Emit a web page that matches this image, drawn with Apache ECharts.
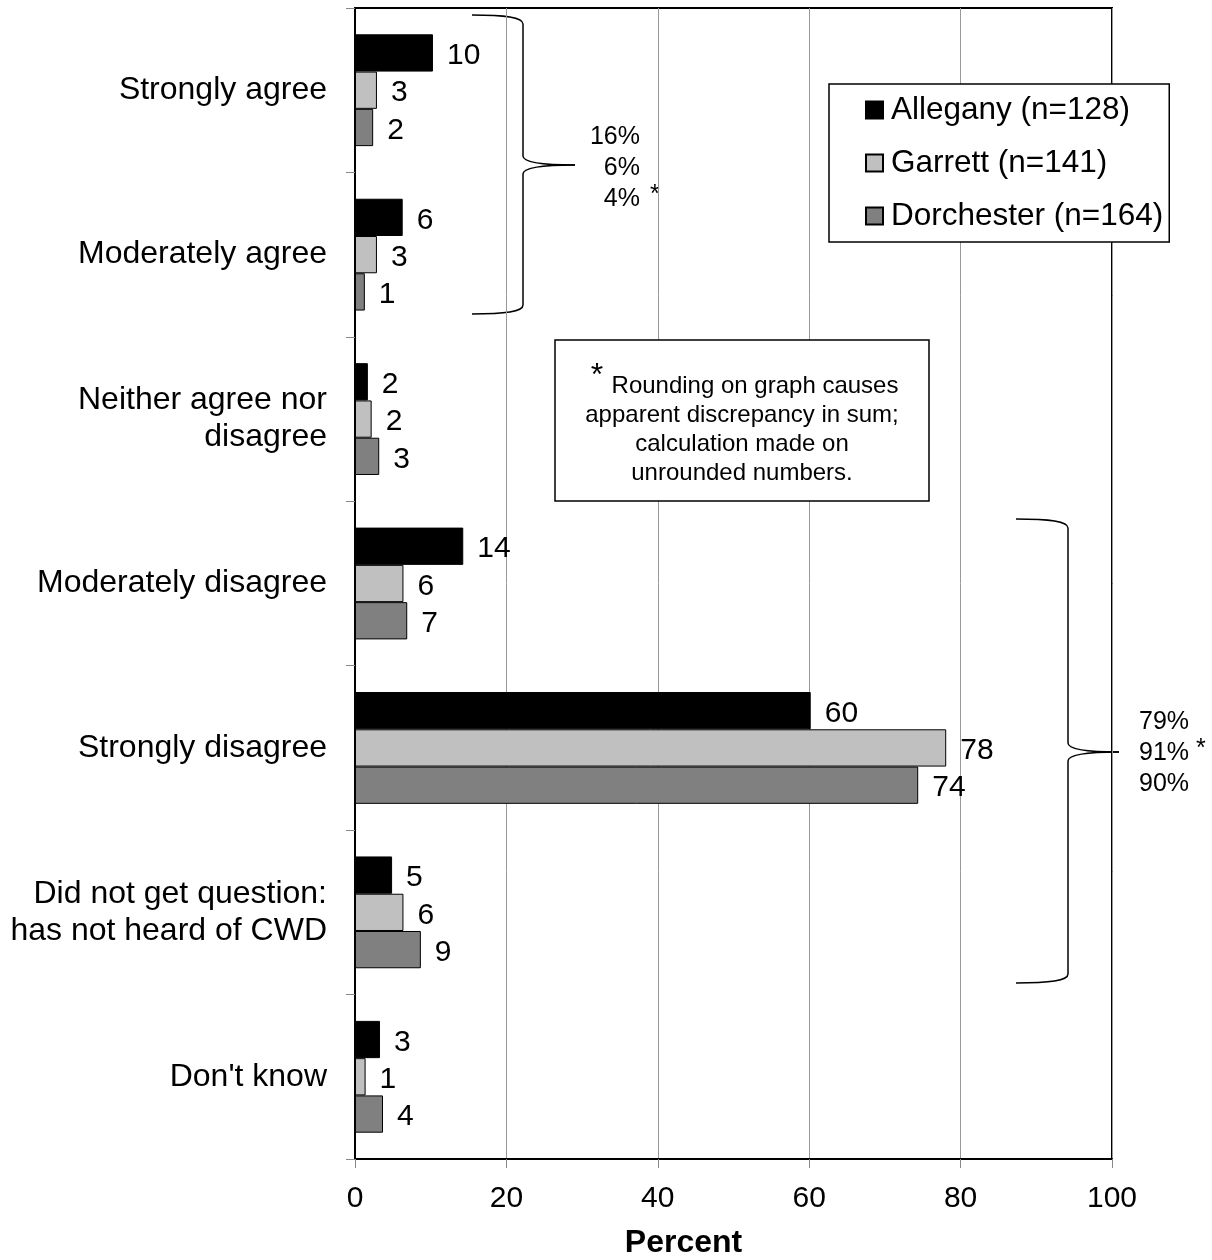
<!DOCTYPE html>
<html lang="en">

<head>
  <meta charset="utf-8">
  <script src="https://cdn.jsdelivr.net/npm/echarts@6.0.0/dist/echarts.min.js"></script>
  <style>
    html, body { margin: 0; padding: 0; background: #fff; }
  </style>
</head>

<body>
  <div id="cwdChart" style="width: 1212px;height:1260px;"></div>

  <script type="text/javascript">

    var categories = ['Strongly agree', 'Moderately agree', 'Neither agree nor\ndisagree',
      'Moderately disagree', 'Strongly disagree', 'Did not get question:\nhas not heard of CWD', "Don't know"];
    var allegany = [10.3, 6.3, 1.7, 14.3, 60.2, 4.9, 3.3];
    var garrett = [2.9, 2.9, 2.2, 6.4, 78.1, 6.4, 1.4];
    var dorchester = [2.4, 1.3, 3.2, 6.9, 74.4, 8.7, 3.7];
    var seriesNames = ['Allegany (n=128)', 'Garrett (n=141)', 'Dorchester (n=164)'];
    var xTicks = [0, 20, 40, 60, 80, 100];
    var agreeTotals = ['16%', '6%', '4%'];
    var disagreeTotals = ['79%', '91%', '90%'];
    var noteLines = ['Rounding on graph causes', 'apparent discrepancy in sum;', 'calculation made on', 'unrounded numbers.'];

    var FONT = '"Liberation Sans", Arial, sans-serif';

    function makeSeries(name, data, color) {
      return {
        name: name,
        type: 'bar',
        data: data,
        barGap: '0%',
        barCategoryGap: '32%',
        itemStyle: { color: color, borderColor: '#000', borderWidth: 1 },
        label: {
          show: true,
          position: 'right',
          distance: 14,
          offset: [0, 3],
          color: '#000',
          fontFamily: FONT,
          fontSize: 30,
          formatter: function (p) { return Math.round(p.value); }
        }
      };
    }

    // curly brace opening to the left, tip pointing right
    function brace(x0, xm, xt, yTop, yTip, yBot) {
      var st = { stroke: '#000', lineWidth: 1.5, fill: null };
      var k = xm - x0;
      return [
        { type: 'bezierCurve', shape: { x1: x0, y1: yTop, cpx1: x0 + k * 0.65, cpy1: yTop, cpx2: xm, cpy2: yTop + 2, x2: xm, y2: yTop + 9 }, style: st },
        { type: 'line', shape: { x1: xm, y1: yTop + 9, x2: xm, y2: yTip - 9 }, style: st },
        { type: 'bezierCurve', shape: { x1: xm, y1: yTip - 9, cpx1: xm, cpy1: yTip - 3, cpx2: xm + (xt - xm) * 0.35, cpy2: yTip, x2: xt, y2: yTip }, style: st },
        { type: 'bezierCurve', shape: { x1: xt, y1: yTip, cpx1: xm + (xt - xm) * 0.35, cpy1: yTip, cpx2: xm, cpy2: yTip + 3, x2: xm, y2: yTip + 9 }, style: st },
        { type: 'line', shape: { x1: xm, y1: yTip + 9, x2: xm, y2: yBot - 9 }, style: st },
        { type: 'bezierCurve', shape: { x1: xm, y1: yBot - 9, cpx1: xm, cpy1: yBot - 2, cpx2: x0 + k * 0.65, cpy2: yBot, x2: x0, y2: yBot }, style: st }
      ];
    }

    function braceText(x, y, lines, align, starIdx, starX) {
      var els = [];
      lines.forEach(function (t, i) {
        els.push({
          type: 'text', x: x, y: y + i * 31,
          style: { text: t, fontFamily: FONT, fontSize: 25, fill: '#000', align: align, verticalAlign: 'middle' }
        });
      });
      els.push({
        type: 'text', x: starX, y: y + starIdx * 31 - 4,
        style: { text: '*', fontFamily: FONT, fontSize: 25, fill: '#000', align: 'left', verticalAlign: 'middle' }
      });
      return els;
    }

    var chart = echarts.init(document.getElementById('cwdChart'));

    var graphics = [];
    graphics = graphics.concat(brace(472, 523, 575, 15, 165, 314));
    graphics = graphics.concat(brace(1016, 1068, 1119, 519, 752, 983));
    graphics.push({
      type: 'rect',
      shape: { x: 555, y: 340, width: 374, height: 161 },
      style: { fill: '#fff', stroke: '#000', lineWidth: 1.5 },
      z: 10
    });
    graphics.push({
      type: 'text', x: 597, y: 376, z: 11,
      style: { text: '*', fontFamily: FONT, fontSize: 32, fill: '#000', align: 'center', verticalAlign: 'middle' }
    });
    noteLines.forEach(function (t, i) {
      graphics.push({
        type: 'text', x: i === 0 ? 755 : 742, y: 386 + i * 29, z: 11,
        style: { text: t, fontFamily: FONT, fontSize: 24, fill: '#000', align: 'center', verticalAlign: 'middle' }
      });
    });
    graphics = graphics.concat(braceText(640, 137, agreeTotals, 'right', 2, 650));
    graphics = graphics.concat(braceText(1139, 722, disagreeTotals, 'left', 1, 1196));

    var option = {
      animation: false,
      backgroundColor: '#fff',
      textStyle: { fontFamily: FONT },
      grid: {
        left: 355, top: 8, width: 757, height: 1151,
        show: true, borderColor: '#000', borderWidth: 2,
        containLabel: false,
        outerBoundsMode: 'none'
      },
      legend: {
        orient: 'vertical',
        left: 829, top: 84,
        backgroundColor: '#fff',
        borderColor: '#000',
        borderWidth: 1.5,
        borderRadius: 0,
        padding: [10, 6, 10, 36],
        itemWidth: 17,
        itemHeight: 17,
        itemGap: 21,
        icon: 'rect',
        z: 10,
        textStyle: { fontFamily: FONT, fontSize: 31.5, color: '#000', lineHeight: 31, padding: [0, 0, 0, 3] },
        data: seriesNames
      },
      xAxis: {
        type: 'value',
        min: xTicks[0],
        max: xTicks[xTicks.length - 1],
        interval: xTicks[1] - xTicks[0],
        name: 'Percent',
        nameLocation: 'middle',
        nameGap: 68,
        nameTextStyle: { fontFamily: FONT, fontSize: 32, fontWeight: 'bold', color: '#000', padding: [0, 100, 0, 0] },
        axisLine: { show: true, lineStyle: { color: '#000', width: 2 } },
        axisTick: { show: true, length: 9, lineStyle: { color: '#888' } },
        axisLabel: { margin: 25, fontFamily: FONT, fontSize: 30, color: '#000' },
        splitLine: { show: true, lineStyle: { color: '#999', width: 1 } }
      },
      yAxis: {
        type: 'category',
        inverse: true,
        data: categories,
        axisLine: { show: true, lineStyle: { color: '#000', width: 2 } },
        axisTick: { show: true, length: 9, lineStyle: { color: '#888' } },
        axisLabel: { margin: 28, fontFamily: FONT, fontSize: 32, color: '#000', align: 'right', lineHeight: 37 },
        splitLine: { show: false }
      },
      series: [
        makeSeries(seriesNames[0], allegany, '#000000'),
        makeSeries(seriesNames[1], garrett, '#c0c0c0'),
        makeSeries(seriesNames[2], dorchester, '#808080')
      ],
      graphic: graphics
    };

    chart.setOption(option);
  </script>
</body>

</html>
